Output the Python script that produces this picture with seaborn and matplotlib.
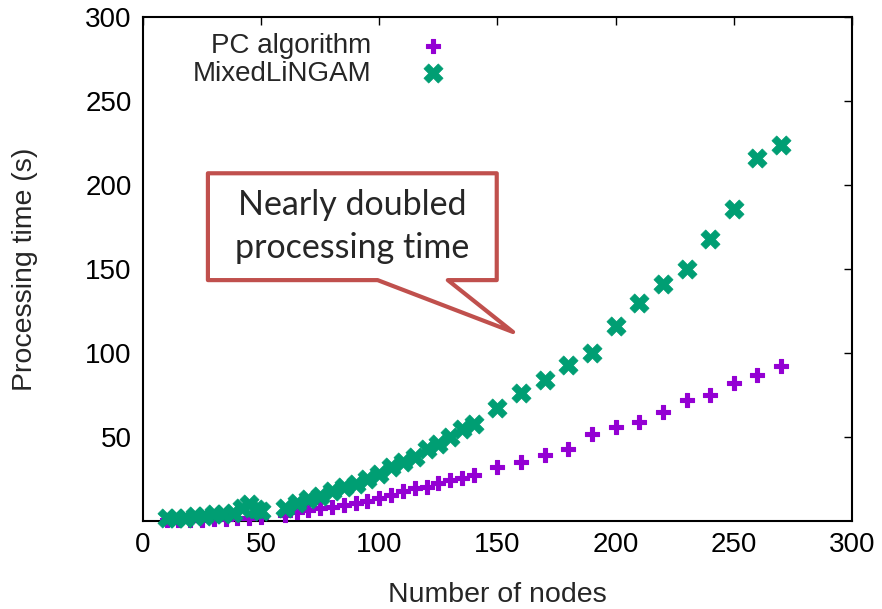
import matplotlib
matplotlib.use('Agg')
import matplotlib.pyplot as plt
import pandas as pd
import seaborn as sns
from matplotlib.patches import Polygon

# ------------------------------------------------------------
# data
# ------------------------------------------------------------
pc_nodes = [10, 15, 20, 25, 30, 35, 40, 45, 50,
            60, 65, 70, 75, 80, 85, 90, 95, 100, 105, 110, 115, 120, 125, 130, 135, 140,
            150, 160, 170, 180, 190, 200, 210, 220, 230, 240, 250, 260, 270]
pc_time = [0.3, 0.4, 0.6, 0.8, 1.0, 1.3, 1.6, 2.0, 2.5,
           3.6, 5.5, 6.5, 7.7, 8.5, 9.5, 10.7, 12.0, 13.5, 15.5, 17.6, 19.6, 20.4, 22.6, 24.4, 25.6, 27.4,
           32, 35, 39, 43, 52, 56, 59, 65, 72, 75, 82, 87, 92]

ml_nodes = [10, 14, 18, 22, 26, 30, 34, 38, 42, 45, 48, 50,
            60, 65, 70, 75, 80, 85, 90, 95, 100, 105, 110, 115, 120, 125, 130, 135, 140,
            150, 160, 170, 180, 190, 200, 210, 220, 230, 240, 250, 260, 270]
ml_time = [2, 2, 2, 3, 3, 4, 4, 5, 8, 10, 7, 6,
           8, 11, 13, 15, 18, 20, 22, 25, 28, 32, 35, 38, 43, 46, 50, 55, 58,
           67, 76, 84, 93, 100, 116, 130, 141, 150, 168, 186, 216, 224]

x_ticks = [0, 50, 100, 150, 200, 250, 300]
y_ticks = [50, 100, 150, 200, 250, 300]

pc = pd.DataFrame({'nodes': pc_nodes, 'time': pc_time})
ml = pd.DataFrame({'nodes': ml_nodes, 'time': ml_time})

# ------------------------------------------------------------
# figure
# ------------------------------------------------------------
sns.set_style('white')
plt.rcParams['font.family'] = ['Liberation Sans', 'DejaVu Sans']

fig = plt.figure(figsize=(8.82, 6.09), dpi=100)
ax = fig.add_axes([0.162, 0.1445, 0.804, 0.8275])

sns.scatterplot(data=pc, x='nodes', y='time', marker='P', s=110, color='#9400D3',
                edgecolor='#9400D3', linewidth=0.8, label='PC algorithm', ax=ax,
                clip_on=False, zorder=3)
sns.scatterplot(data=ml, x='nodes', y='time', marker='X', s=190, color='#009E73',
                edgecolor='#009E73', linewidth=0.5, label='MixedLiNGAM', ax=ax,
                clip_on=False, zorder=3)

ax.set_xlim(0, 300)
ax.set_ylim(0, 300)
ax.set_xticks(x_ticks)
ax.set_yticks(y_ticks)
ax.tick_params(direction='in', length=6, width=1, labelsize=20, top=True, right=True,
               pad=8, colors='black')
for s in ax.spines.values():
    s.set_linewidth(1.5)
    s.set_color('black')
ax.set_xlabel('Number of nodes', fontsize=20.5, labelpad=17)
ax.set_ylabel('Processing time (s)', fontsize=20.5, labelpad=34)

ax.legend(loc='upper left', bbox_to_anchor=(0.055, 0.99), frameon=False, markerfirst=False,
          fontsize=20, handletextpad=1.2, labelspacing=0.05, borderaxespad=0)

# callout box
callout = [(0.0917, 0.690), (0.499, 0.690), (0.499, 0.478), (0.430, 0.478),
           (0.522, 0.375), (0.331, 0.478), (0.0917, 0.478)]
ax.add_patch(Polygon(callout, closed=True, transform=ax.transAxes, facecolor='white',
                     edgecolor='#C0504D', linewidth=3, joinstyle='round', zorder=4))
ax.text(0.295, 0.584, 'Nearly doubled\nprocessing time', transform=ax.transAxes,
        ha='center', va='center', fontsize=24.5, family=['Lato', 'DejaVu Sans'],
        linespacing=1.4, zorder=5)

plt.savefig('out.png', dpi=100)
